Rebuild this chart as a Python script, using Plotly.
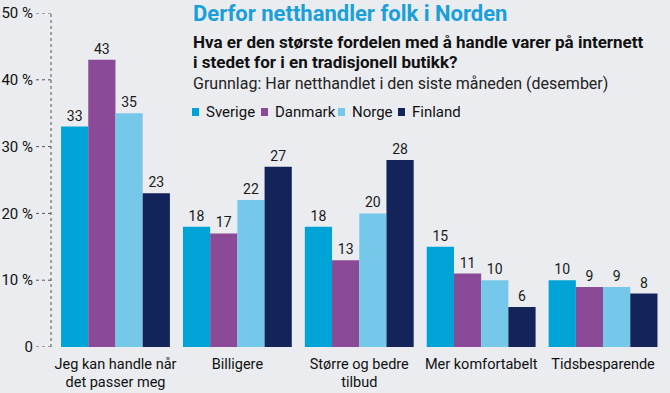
import plotly.graph_objects as go

categories = ["Jeg kan handle når<br>det passer meg", "Billigere", "Større og bedre<br>tilbud",
              "Mer komfortabelt", "Tidsbesparende"]
series_names = ["Sverige", "Danmark", "Norge", "Finland"]
sverige = [33, 18, 18, 15, 10]
danmark = [43, 17, 13, 11, 9]
norge = [35, 22, 20, 10, 9]
finland = [23, 27, 28, 6, 8]
tick_vals = [0, 10, 20, 30, 40, 50]
tick_text = ["0", "10 %", "20 %", "30 %", "40 %", "50 %"]

colors = ["#00a3d6", "#8b4a97", "#75c8ea", "#13245a"]
FONT = "Roboto, sans-serif"

W, H = 670, 393
ML, MR, MT, MB = 51, 6, 13, 46
PW, PH = W - ML - MR, H - MT - MB


def px(x):
    return (x - ML) / PW


def py(y):
    return (H - MB - y) / PH


fig = go.Figure()
for name, vals, col in zip(series_names, [sverige, danmark, norge, finland], colors):
    fig.add_trace(go.Bar(
        name=name, x=categories, y=vals, marker=dict(color=col, line=dict(width=0)),
        text=[str(v) for v in vals], textposition="outside", cliponaxis=False,
        textfont=dict(size=14, color="#1a1a1a", family=FONT),
        showlegend=False,
    ))

shapes = [dict(type="line", xref="paper", yref="y", x0=0, x1=0, y0=0, y1=50,
               line=dict(color="#555", width=1, dash="dot"))]
for t in tick_vals:
    shapes.append(dict(type="line", xref="paper", yref="y", x0=px(36), x1=0, y0=t, y1=t,
                       line=dict(color="#555", width=1, dash="dot")))

ann = [
    dict(text="<b>Derfor netthandler folk i Norden</b>", x=px(191), y=py(13), xref="paper", yref="paper",
         xanchor="left", yanchor="middle", showarrow=False,
         font=dict(size=22, color="#1aa0d8", family=FONT)),
    dict(text="<b>Hva er den største fordelen med å handle varer på internett</b>", x=px(191), y=py(42),
         xref="paper", yref="paper", xanchor="left", yanchor="middle", showarrow=False,
         font=dict(size=17, color="#111", family=FONT)),
    dict(text="<b>i stedet for i en tradisjonell butikk?</b>", x=px(191), y=py(62),
         xref="paper", yref="paper", xanchor="left", yanchor="middle", showarrow=False,
         font=dict(size=17, color="#111", family=FONT)),
    dict(text="Grunnlag: Har netthandlet i den siste måneden (desember)", x=px(191), y=py(84),
         xref="paper", yref="paper", xanchor="left", yanchor="middle", showarrow=False,
         font=dict(size=16, color="#222", family=FONT)),
]

legend_sq_x = [192, 261, 338, 398]
for name, col, lx in zip(series_names, colors, legend_sq_x):
    shapes.append(dict(type="rect", xref="paper", yref="paper", x0=px(lx), x1=px(lx + 7),
                       y0=py(116), y1=py(108), fillcolor=col, line=dict(width=0)))
    ann.append(dict(text=name, x=px(lx + 12), y=py(112), xref="paper", yref="paper",
                    xanchor="left", yanchor="middle", showarrow=False,
                    font=dict(size=15, color="#111", family=FONT)))

fig.update_layout(
    width=W, height=H,
    margin=dict(l=ML, r=MR, t=MT, b=MB, autoexpand=False),
    paper_bgcolor="#eaecf0", plot_bgcolor="rgba(0,0,0,0)",
    barmode="group", bargap=0.107, bargroupgap=0,
    font=dict(family=FONT, size=14, color="#111"),
    showlegend=False,
    xaxis=dict(range=[-0.529, 4.5], showgrid=False, showline=False, ticks="", automargin=False,
               ticklabelstandoff=6,
               tickfont=dict(size=14.5, family=FONT, color="#111")),
    yaxis=dict(range=[0, 50], showgrid=False, zeroline=False, showline=False, automargin=False,
               tickvals=tick_vals, ticktext=tick_text, ticks="", ticklabelstandoff=17,
               tickfont=dict(size=15, family=FONT, color="#111")),
    shapes=shapes, annotations=ann,
)

fig.write_html("out.html", config={"displayModeBar": False},
               post_script="document.body.style.margin='0';document.body.style.overflow='hidden';"
                           "document.body.style.background='#eaecf0';")
